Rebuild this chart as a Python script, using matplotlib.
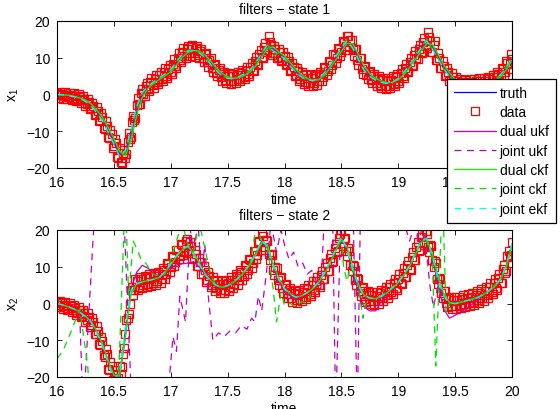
#Dual / joint filter comparison, two states

from matplotlib import pyplot as plt
import numpy as np

plt.rcParams['font.family'] = ['Liberation Sans', 'DejaVu Sans']
plt.rcParams['font.size'] = 10
plt.rcParams['mathtext.default'] = 'regular'
plt.rcParams['lines.scale_dashes'] = False

# time grids
t_est = np.round(np.arange(16.0, 20.001, 0.05), 2)
t_dat = np.round(np.arange(16.0, 20.001, 0.02), 2)
t_mid = np.round(np.arange(16.01, 19.999, 0.02), 2)

# ---------------- state 1 ----------------
truth1 = [0.0, -0.1, -0.3, -0.6, -1.0, -1.8, -3.0, -4.8, -7.0, -10.0,
          -13.0, -16.5, -15.5, -10.0, -3.5, 0.5, 2.2, 3.4, 4.5, 5.5,
          6.7, 8.8, 10.8, 11.8, 12.0, 11.4, 10.2, 8.3, 6.6, 5.2,
          4.4, 4.3, 4.9, 5.6, 6.7, 8.7, 11.1, 13.4, 12.0, 11.0,
          9.8, 7.8, 6.1, 4.8, 3.9, 3.8, 4.3, 5.8, 8.0, 10.2,
          12.5, 14.5, 12.8, 9.6, 6.6, 5.0, 3.9, 3.3, 3.0, 3.4,
          4.3, 6.0, 8.0, 10.2, 12.5, 14.5, 12.5, 9.8, 7.0, 5.0,
          3.4, 2.8, 2.5, 2.6, 2.8, 3.0, 3.4, 4.1, 5.3, 7.4, 10.0]

data1 = [0.3, -0.2, 0.1, -0.4, 0.0, -0.6, -0.2, -0.9, -0.5, -1.2,
         -0.8, -1.6, -1.3, -2.6, -2.0, -3.6, -3.2, -5.2, -4.6, -7.0,
         -6.2, -9.3, -8.5, -11.8, -10.7, -14.0, -13.2, -17.3, -18.3, -16.0,
         -17.4, -12.8, -12.2, -7.6, -6.9, -2.8, -2.7, 0.4, 0.1, 2.2,
         1.6, 3.3, 2.6, 4.3, 3.5, 5.2, 4.3, 6.0, 5.0, 6.9,
         6.0, 8.3, 7.7, 10.0, 9.3, 11.7, 10.6, 12.5, 11.2, 12.9,
         11.3, 12.7, 10.8, 11.9, 9.9, 10.9, 8.8, 9.4, 7.2, 7.9,
         5.9, 6.6, 4.8, 5.6, 4.0, 5.0, 3.6, 4.9, 3.7, 5.3,
         4.2, 5.9, 4.8, 6.5, 5.5, 7.5, 6.8, 9.1, 8.4, 10.9,
         10.3, 12.8, 12.1, 15.9, 13.4, 11.2, 12.4, 10.3, 11.6, 9.5,
         10.6, 8.2, 9.0, 6.6, 7.5, 5.3, 6.4, 4.3, 5.3, 3.5,
         4.6, 3.1, 4.5, 3.2, 4.9, 3.6, 5.7, 4.8, 7.1, 6.4,
         8.9, 8.1, 10.7, 9.9, 12.5, 11.7, 14.3, 13.2, 16.0, 14.9,
         12.0, 12.4, 9.4, 9.9, 7.0, 7.4, 5.2, 6.0, 4.0, 5.0,
         3.2, 4.3, 2.7, 3.9, 2.4, 3.7, 2.4, 4.0, 2.9, 4.7,
         3.6, 5.8, 5.0, 7.2, 6.4, 8.8, 8.1, 10.7, 9.9, 12.5,
         11.6, 14.3, 13.2, 17.0, 14.6, 11.7, 14.5, 9.5, 10.0, 7.3,
         7.8, 5.4, 6.2, 3.9, 4.8, 2.7, 3.8, 2.2, 3.4, 1.9,
         3.2, 1.9, 3.4, 2.1, 3.7, 2.4, 3.6, 2.3, 3.8, 2.5,
         4.1, 3.0, 4.8, 3.7, 5.6, 4.6, 6.9, 6.2, 8.7, 8.2,
         9.6]

# samples in between (16.01, 16.03, ... 19.99)
data1_mid = [-0.9, 0.8, -1.1, 0.6, -1.3, 0.5, -1.5, 0.3, -1.9, 0.1,
             -2.4, -0.4, -3.0, -1.1, -4.0, -2.2, -5.6, -3.5, -7.1, -5.0,
             -9.0, -7.1, -11.7, -9.6, -14.5, -12.0, -16.9, -14.6, -18.6, -15.0,
             -16.2, -10.6, -11.5, -5.8, -6.4, -1.0, -2.6, 1.6, -0.3, 3.2,
             1.0, 4.4, 1.9, 5.3, 2.8, 6.2, 3.6, 7.1, 4.4, 8.0,
             5.5, 9.6, 7.2, 11.3, 8.8, 12.6, 9.9, 13.3, 10.4, 13.5,
             10.3, 13.2, 9.8, 12.4, 8.9, 11.3, 7.6, 9.8, 6.0, 8.4,
             4.9, 7.1, 3.8, 6.2, 3.1, 5.8, 2.9, 5.7, 3.1, 6.1,
             3.6, 6.8, 4.2, 7.4, 5.0, 8.6, 6.4, 10.2, 8.1, 12.1,
             10.0, 14.0, 11.6, 14.4, 10.8, 13.3, 9.9, 12.5, 9.0, 11.5,
             7.9, 10.1, 6.3, 8.5, 4.9, 7.3, 3.8, 6.2, 2.9, 5.5,
             2.4, 5.3, 2.3, 5.5, 2.7, 6.1, 3.7, 7.4, 5.2, 9.0,
             7.0, 10.9, 8.7, 12.7, 10.5, 14.5, 12.1, 15.9, 12.8, 14.9,
             10.6, 12.4, 8.1, 9.9, 5.7, 7.8, 4.2, 6.5, 3.0, 5.6,
             2.3, 5.0, 1.8, 4.6, 1.6, 4.5, 1.7, 4.9, 2.2, 5.6,
             3.1, 6.9, 4.5, 8.3, 6.1, 10.0, 7.8, 11.8, 9.6, 13.6,
             11.3, 15.3, 12.6, 15.6, 11.6, 13.5, 9.3, 11.3, 7.1, 9.0,
             5.1, 7.3, 3.6, 5.8, 2.2, 4.7, 1.5, 4.3, 1.2, 4.0,
             1.1, 4.1, 1.3, 4.3, 1.6, 4.5, 1.5, 4.5, 1.7, 4.8,
             2.1, 5.3, 2.7, 6.1, 3.6, 7.2, 5.0, 9.0, 6.9, 11.0]

dual_ukf1 = [0.0, -0.1, -0.3, -0.5, -0.9, -1.6, -2.7, -4.4, -6.5, -9.4,
             -12.4, -15.9, -16.2, -11.5, -4.8, -0.2, 1.9, 3.2, 4.3, 5.3,
             6.4, 8.3, 10.4, 11.6, 12.1, 11.7, 10.6, 8.8, 7.0, 5.5,
             4.6, 4.3, 4.7, 5.4, 6.4, 8.2, 10.6, 13.0, 12.6, 11.3,
             10.2, 8.3, 6.5, 5.1, 4.1, 3.8, 4.1, 5.4, 7.5, 9.7,
             12.0, 14.2, 13.4, 10.3, 7.2, 5.4, 4.2, 3.5, 3.1, 3.3,
             4.1, 5.6, 7.6, 9.8, 12.0, 14.2, 13.2, 10.5, 7.6, 5.5,
             3.8, 3.0, 2.6, 2.6, 2.7, 2.9, 3.3, 3.9, 5.0, 7.0, 9.6]

joint_ukf1 = [0.0, -0.1, -0.3, -0.6, -1.0, -1.7, -2.9, -4.7, -6.8, -9.8,
              -12.8, -16.8, -16.0, -10.6, -3.9, 0.3, 2.1, 3.3, 4.4, 5.4,
              6.6, 8.6, 10.7, 11.9, 12.2, 11.6, 10.4, 8.5, 6.8, 5.3,
              4.5, 4.3, 4.8, 5.5, 6.6, 8.5, 10.9, 13.6, 12.3, 11.2,
              10.0, 8.0, 6.3, 4.9, 4.0, 3.8, 4.2, 5.7, 7.8, 10.0,
              12.3, 14.6, 13.1, 9.9, 6.8, 5.1, 4.0, 3.4, 3.0, 3.3,
              4.2, 5.9, 7.9, 10.1, 12.4, 14.8, 12.9, 10.1, 7.2, 5.1,
              3.5, 2.8, 2.5, 2.6, 2.8, 3.0, 3.4, 4.0, 5.2, 7.3, 9.9]

dual_ckf1 = [0.0, -0.1, -0.2, -0.5, -0.9, -1.5, -2.6, -4.2, -6.2, -9.0,
             -12.0, -15.4, -16.8, -12.5, -5.8, -0.8, 1.6, 3.0, 4.1, 5.1,
             6.2, 8.0, 10.1, 11.4, 12.0, 11.8, 10.8, 9.1, 7.3, 5.8,
             4.8, 4.4, 4.6, 5.2, 6.2, 7.9, 10.2, 12.6, 13.0, 11.6,
             10.5, 8.7, 6.9, 5.4, 4.3, 3.9, 4.0, 5.2, 7.2, 9.4,
             11.7, 13.9, 13.8, 10.9, 7.7, 5.7, 4.4, 3.7, 3.2, 3.3,
             4.0, 5.4, 7.3, 9.5, 11.7, 13.9, 13.6, 11.0, 8.1, 5.9,
             4.1, 3.2, 2.7, 2.6, 2.7, 2.9, 3.2, 3.8, 4.8, 6.7, 9.3]

joint_ckf1 = [0.0, -0.1, -0.3, -0.6, -1.0, -1.8, -3.0, -4.9, -7.1, -10.2,
              -13.3, -17.0, -15.8, -10.3, -3.6, 0.4, 2.2, 3.4, 4.5, 5.5,
              6.8, 8.9, 11.0, 12.1, 12.2, 11.5, 10.3, 8.4, 6.7, 5.2,
              4.4, 4.2, 4.8, 5.6, 6.7, 8.8, 11.3, 13.9, 10.5, 11.4,
              9.9, 7.9, 6.1, 4.8, 3.9, 3.7, 4.3, 5.8, 8.0, 10.3,
              12.7, 15.0, 12.4, 9.5, 6.6, 5.0, 3.9, 3.3, 3.0, 3.4,
              4.3, 6.0, 8.1, 10.3, 12.7, 15.1, 12.3, 9.8, 7.0, 5.0,
              3.4, 2.8, 2.5, 2.6, 2.8, 3.0, 3.4, 4.1, 5.3, 7.5, 10.1]

joint_ekf1 = [0.0, -0.1, -0.3, -0.6, -1.1, -1.9, -3.1, -5.0, -7.2, -10.3,
              -13.5, -16.9, -15.2, -9.6, -3.2, 0.6, 2.3, 3.5, 4.6, 5.6,
              6.8, 8.9, 10.9, 11.8, 11.9, 11.3, 10.1, 8.2, 6.5, 5.1,
              4.4, 4.3, 4.9, 5.7, 6.8, 8.8, 11.2, 13.5, 11.9, 10.9,
              9.7, 7.7, 6.0, 4.7, 3.9, 3.8, 4.4, 5.9, 8.1, 10.3,
              12.6, 14.6, 12.7, 9.5, 6.5, 4.9, 3.9, 3.3, 3.0, 3.4,
              4.4, 6.1, 8.1, 10.3, 12.6, 14.6, 12.4, 9.7, 6.9, 4.9,
              3.4, 2.8, 2.5, 2.6, 2.8, 3.0, 3.4, 4.1, 5.4, 7.5, 10.1]

# ---------------- state 2 ----------------
truth2 = [0.0, -0.4, -0.9, -1.5, -2.4, -3.5, -5.0, -7.8, -11.4, -16.0,
          -19.8, -19.5, -7.8, 3.0, 5.3, 5.8, 6.2, 6.6, 7.1, 8.6,
          10.8, 12.9, 14.8, 15.7, 13.5, 10.8, 8.0, 6.2, 4.9, 4.4,
          4.9, 5.8, 7.1, 8.8, 10.8, 13.8, 17.0, 15.7, 10.3, 6.6,
          4.0, 2.6, 1.7, 2.2, 3.0, 4.2, 5.8, 8.2, 11.2, 14.6,
          18.0, 14.8, 9.4, 4.9, 2.2, 1.5, 1.3, 2.0, 3.0, 4.3,
          5.8, 7.8, 10.3, 13.5, 17.0, 17.8, 13.0, 6.7, 2.2, 0.2,
          0.0, 0.4, 0.8, 1.2, 1.7, 2.5, 3.5, 4.8, 6.7, 10.3, 16.2]

data2 = [0.3, -0.3, 0.1, -0.8, -0.3, -1.3, -0.7, -1.8, -1.2, -2.5,
         -1.9, -3.4, -2.6, -4.6, -3.7, -5.9, -5.0, -8.4, -7.4, -11.2,
         -10.1, -14.6, -13.8, -18.2, -17.0, -20.5, -19.4, -20.4, -19.2, -13.8,
         -8.2, -4.0, 0.0, 4.5, 3.6, 6.2, 4.5, 6.7, 5.0, 6.9,
         5.3, 7.3, 5.6, 7.6, 6.0, 8.0, 6.7, 9.2, 8.0, 10.8,
         9.9, 12.7, 11.4, 14.5, 12.9, 16.0, 13.9, 17.6, 14.3, 15.6,
         12.3, 13.6, 10.2, 11.3, 8.0, 9.0, 6.3, 7.5, 5.0, 6.2,
         4.1, 5.4, 3.6, 5.2, 3.8, 5.7, 4.4, 6.4, 5.2, 7.4,
         6.3, 8.7, 7.6, 10.1, 9.1, 11.8, 11.0, 14.3, 13.3, 17.0,
         19.5, 15.4, 17.2, 13.4, 13.6, 9.2, 9.8, 6.3, 7.0, 4.1,
         4.9, 2.5, 3.6, 1.5, 2.8, 0.9, 2.7, 1.3, 3.2, 1.9,
         3.9, 2.7, 4.9, 3.7, 6.2, 4.9, 7.8, 6.7, 9.9, 8.9,
         12.4, 11.4, 15.2, 14.0, 17.9, 20.0, 17.5, 14.2, 15.0, 10.4,
         10.6, 6.5, 6.9, 3.4, 4.2, 1.3, 2.8, 0.8, 2.3, 0.6,
         2.1, 0.8, 2.8, 1.4, 3.5, 2.2, 4.4, 3.2, 5.5, 4.3,
         6.8, 5.7, 8.4, 7.3, 10.4, 9.3, 12.7, 11.8, 15.4, 14.4,
         18.2, 16.5, 19.6, 15.4, 16.0, 11.8, 11.7, 6.8, 7.0, 2.9,
         3.3, 0.2, 1.4, -0.8, 0.9, -0.8, 1.0, -0.5, 1.3, -0.2,
         1.6, 0.1, 1.9, 0.5, 2.3, 0.9, 2.8, 1.5, 3.5, 2.3,
         4.4, 3.1, 5.5, 4.3, 7.0, 5.7, 9.3, 8.4, 12.8, 12.7,
         16.8]

data2_mid = [-1.0, 0.7, -1.4, 0.4, -1.8, 0.1, -2.3, -0.4, -3.0, -1.0,
             -3.8, -1.7, -4.9, -2.6, -6.3, -4.0, -8.3, -6.2, -10.9, -9.0,
             -14.0, -12.4, -17.7, -15.8, -20.8, -18.0, -21.4, -17.1, -17.2, -12.2,
             -4.6, -2.8, 3.6, 2.4, 6.6, 3.8, 7.3, 4.1, 7.6, 4.4,
             8.0, 4.8, 8.3, 5.1, 8.7, 5.6, 9.6, 6.8, 11.1, 8.6,
             12.9, 10.3, 14.6, 12.0, 16.2, 13.3, 17.1, 13.8, 16.6, 12.2,
             14.6, 10.1, 12.4, 7.9, 10.2, 5.9, 8.6, 4.5, 7.3, 3.4,
             6.4, 2.8, 6.1, 2.8, 6.4, 3.3, 7.1, 4.1, 8.0, 5.1,
             9.2, 6.4, 10.6, 7.9, 12.1, 9.7, 14.3, 12.1, 16.8, 14.6,
             18.5, 14.5, 17.0, 11.8, 13.1, 7.8, 9.7, 5.0, 7.2, 2.8,
             5.4, 1.4, 4.2, 0.5, 3.5, 0.1, 3.7, 0.6, 4.2, 1.2,
             4.9, 2.1, 6.0, 3.2, 7.2, 4.6, 8.9, 6.6, 11.1, 8.9,
             13.6, 11.5, 16.3, 14.2, 19.0, 15.6, 17.8, 12.9, 14.4, 8.8,
             10.2, 5.0, 6.8, 2.1, 4.4, 0.3, 3.4, -0.2, 3.1, -0.4,
             3.1, 0.0, 3.7, 0.7, 4.5, 1.5, 5.4, 2.6, 6.6, 3.8,
             7.9, 5.3, 9.6, 7.1, 11.5, 9.2, 14.0, 11.8, 16.6, 14.6,
             19.0, 15.9, 18.9, 14.0, 15.7, 10.0, 11.0, 5.2, 6.6, 1.4,
             3.4, -0.9, 1.9, -1.6, 1.7, -1.6, 1.9, -1.3, 2.2, -1.0,
             2.5, -0.7, 2.9, -0.3, 3.3, 0.1, 3.9, 0.8, 4.6, 1.6,
             5.5, 2.5, 6.6, 3.8, 8.0, 5.7, 10.6, 8.8, 14.4, 13.3]

dual_ukf2 = [0.0, -0.4, -0.9, -1.5, -2.4, -3.5, -5.0, -7.7, -11.2, -15.7,
             -19.6, -19.8, -9.5, 4.0, 8.5, 10.4, 9.6, 8.2, 7.5, 8.5,
             9.8, 10.5, 10.8, 11.0, 11.4, 10.0, 7.9, 6.1, 4.8, 4.3,
             4.8, 5.7, 7.0, 8.7, 10.7, 13.6, 16.6, 15.4, 10.0, 6.0,
             3.4, 2.0, 1.4, 2.0, 2.9, 4.1, 5.7, 8.1, 11.1, 14.4,
             17.6, 14.6, 8.8, 3.0, -1.0, -2.0, -2.0, 0.5, 2.6, 4.1,
             5.7, 7.7, 10.2, 13.4, 16.8, 17.5, 12.5, 5.0, -1.5, -4.0,
             -3.2, -2.3, -1.3, -0.2, 1.4, 2.4, 3.4, 4.7, 6.6, 10.1, 16.0]

dual_ckf2 = [0.0, -0.4, -0.9, -1.5, -2.3, -3.4, -4.9, -7.6, -11.0, -15.5,
             -19.5, -19.8, -9.0, 2.5, 5.4, 5.9, 6.2, 6.6, 7.1, 8.5,
             10.6, 12.7, 14.6, 15.5, 13.8, 11.1, 8.2, 6.3, 5.0, 4.4,
             4.8, 5.7, 7.0, 8.7, 10.6, 13.5, 16.6, 16.0, 10.8, 6.9,
             4.2, 2.7, 1.7, 2.1, 2.9, 4.1, 5.7, 8.0, 11.0, 14.3,
             17.6, 15.3, 9.9, 5.2, 2.3, 1.5, 1.3, 1.9, 2.9, 4.2,
             5.7, 7.7, 10.1, 13.2, 16.6, 17.7, 13.6, 7.3, 2.6, 0.3,
             -0.1, 0.3, 0.7, 1.1, 1.6, 2.4, 3.4, 4.7, 6.5, 10.0, 15.8]

joint_ekf2 = [0.0, -0.4, -0.9, -1.5, -2.4, -3.6, -5.1, -8.0, -11.7, -16.4,
              -20.5, -19.0, -6.5, 3.4, 5.4, 5.8, 6.2, 6.6, 7.1, 8.7,
              10.9, 13.0, 14.9, 15.6, 13.3, 10.6, 7.9, 6.1, 4.9, 4.4,
              4.9, 5.8, 7.2, 8.9, 10.9, 14.0, 17.2, 15.4, 10.0, 6.4,
              3.9, 2.5, 1.7, 2.2, 3.0, 4.3, 5.9, 8.3, 11.4, 14.8,
              18.2, 14.5, 9.1, 4.7, 2.1, 1.5, 1.3, 2.0, 3.0, 4.4,
              5.9, 7.9, 10.4, 13.7, 17.2, 17.7, 12.7, 6.4, 2.0, 0.2,
              0.0, 0.4, 0.8, 1.2, 1.7, 2.5, 3.6, 4.9, 6.8, 10.5, 16.4]

# the joint filters diverge on state 2, so they get their own time stamps
t_joint_ukf2 = [16.00, 16.05, 16.10, 16.15, 16.20, 16.23, 16.34, 16.58, 16.66, 16.96,
                17.02, 17.05, 17.08, 17.13, 17.17, 17.20, 17.24, 17.27, 17.30, 17.33,
                17.37, 17.42, 17.47, 17.52, 17.57, 17.62, 17.67, 17.71, 17.74, 17.77,
                17.80, 17.84, 17.88, 17.93, 17.97, 18.00, 18.04, 18.08, 18.12, 18.16,
                18.20, 18.24, 18.28, 18.32, 18.36, 18.42, 18.45, 18.50, 18.60, 18.64,
                18.67, 19.05, 19.10, 19.14, 19.18, 19.22, 19.28, 19.31, 19.35, 19.40,
                19.45, 19.50, 19.60, 19.70, 19.80, 19.90, 19.95, 20.00]
joint_ukf2 = [0.0, -0.4, -0.9, -1.5, -3.0, -30, 30, 30, -30, -30,
              -9.0, -13.0, 2.0, -5.0, 20.5, 14.0, 22.0, 8.0, 16.0, 2.0,
              -10.0, -8.0, -9.0, -7.5, -8.0, -6.0, -7.0, -4.0, -5.0, 2.0,
              -2.0, 8.0, 22.0, 14.0, 20.0, 16.0, 12.0, 14.0, 10.0, 11.0,
              8.0, 9.0, 6.0, 4.0, 30, 30, -30, 30, 30, -30,
              30, 22, 17, 21, 17, 22, 4.5, -1.0, 5.0, 2.2,
              0.2, 0.0, 0.8, 1.7, 3.5, 6.7, 10.3, 16.2]

t_joint_ckf2 = [16.00, 16.05, 16.10, 16.15, 16.20, 16.23, 16.27, 16.30, 16.53, 16.60,
                16.63, 16.67, 16.70, 16.74, 16.78, 16.84, 16.90, 16.95, 17.00, 17.05,
                17.10, 17.15, 17.20, 17.25, 17.30, 17.35, 17.40, 17.45, 17.50, 17.60,
                17.70, 17.75, 17.80, 17.85, 17.90, 17.93, 17.97, 18.00, 18.05, 18.10,
                18.15, 18.20, 18.25, 18.30, 18.40, 18.47, 18.50, 18.52, 18.55, 18.58,
                18.62, 18.65, 18.69, 18.72, 18.80, 18.90, 19.00, 19.10, 19.20, 19.25,
                19.30, 19.33, 19.39, 19.42, 19.45, 19.50, 19.60, 19.70, 19.80, 19.90,
                19.95, 20.00]
joint_ckf2 = [-15.0, -13.0, -9.5, -5.5, -1.5, -8.0, -17.0, -30, -30, 30,
              2.0, 17.0, 15.0, 12.0, 11.0, 8.0, 7.5, 8.0, 12.0, 17.0,
              22.0, 16.0, 14.0, 22.0, 15.0, 8.0, 4.8, 4.4, 4.8, 7.0,
              11.0, 21.0, 17.0, 15.0, 4.0, -5.0, 3.0, -0.5, 0.0, -1.0,
              0.5, 0.0, 4.0, 5.8, 11.0, 16.0, 17.0, 10.0, 6.0, 10.0,
              8.0, 4.0, -4.0, 1.5, 1.3, 3.0, 5.8, 10.3, 17.0, 17.0,
              12.0, -17.0, 30, -2.5, 0.0, 0.0, 0.8, 1.7, 3.5, 6.7,
              10.3, 16.2]

labels = ['truth', 'data', 'dual ukf', 'joint ukf', 'dual ckf', 'joint ckf', 'joint ekf']

LW = 0.9
DASH = (5, 4)


def draw_state(ax, truth, data, data_mid, dukf, t_jukf, jukf, dckf, t_jckf, jckf, jekf, name, ylab, pad):
	t_all = np.concatenate([t_dat, t_mid])
	d_all = np.concatenate([data, data_mid])
	order = np.argsort(t_all)
	ax.plot(t_est, truth, color='b', lw=LW)
	ax.plot(t_all[order], d_all[order], 's', color='r', mfc='none', ms=5.5, mew=0.9)
	ax.plot(t_est, dukf, color='m', lw=LW)
	ax.plot(t_jukf, jukf, color='m', lw=LW, dashes=DASH)
	ax.plot(t_est, dckf, color='#00ff00', lw=LW)
	ax.plot(t_jckf, jckf, color='#00dd00', lw=LW, dashes=DASH)
	ax.plot(t_est, jekf, color='#00ffff', lw=LW, dashes=DASH)
	ax.set_xlim(16, 20)
	ax.set_ylim(-20, 20)
	ax.set_xticks(np.arange(16, 20.01, 0.5))
	ax.set_xticklabels(['16', '16.5', '17', '17.5', '18', '18.5', '19', '19.5', '20'])
	ax.set_yticks([-20, -10, 0, 10, 20])
	ax.tick_params(direction='in', top=True, right=True, length=3.5, width=0.6, pad=5)
	for s in ax.spines.values():
		s.set_linewidth(0.8)
	ax.set_title(name, fontsize=10, pad=pad)
	ax.set_xlabel('time', labelpad=2)
	ax.set_ylabel(ylab, labelpad=4)


fig = plt.figure(figsize=(5.6, 4.1), dpi=100)
ax1 = fig.add_axes([57 / 560, 1 - 169 / 410, 455 / 560, 147 / 410])
ax2 = fig.add_axes([57 / 560, 1 - 378 / 410, 455 / 560, 147 / 410])

draw_state(ax1, truth1, data1, data1_mid, dual_ukf1, t_est, joint_ukf1, dual_ckf1, t_est,
           joint_ckf1, joint_ekf1, 'filters \u2212 state 1', 'x$_1$', 6)
draw_state(ax2, truth2, data2, data2_mid, dual_ukf2, t_joint_ukf2, joint_ukf2, dual_ckf2,
           t_joint_ckf2, joint_ckf2, joint_ekf2, 'filters \u2212 state 2', 'x$_2$', 8)

leg = fig.legend(ax1.get_lines(), labels, loc='upper left',
                 bbox_to_anchor=(447 / 560, 1 - 80 / 410), borderaxespad=0,
                 fancybox=False, framealpha=1, edgecolor='k', handlelength=3.0,
                 labelspacing=0.38, borderpad=0.5, handletextpad=0.3, fontsize=10)
leg.get_frame().set_linewidth(0.9)
leg.set_zorder(10)

fig.savefig('out.png', dpi=100)
